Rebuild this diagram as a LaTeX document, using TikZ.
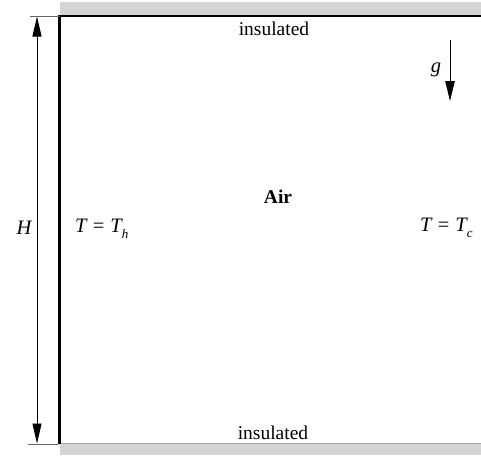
\documentclass[tikz,border=0pt]{standalone}
\usepackage{fontspec}
\setmainfont{Liberation Serif}
\usetikzlibrary{arrows.meta}
\tikzset{
  lbl/.style={inner sep=0pt, font=\fontsize{19.5}{22}\selectfont},
  mlbl/.style={inner sep=0pt, font=\fontsize{20.5}{24}\selectfont},
  wallbar/.style={fill=black!17, draw=none},
  dimline/.style={draw=black!60, line width=0.9pt},
  arrowline/.style={draw=black, line width=0.9pt, {Triangle[length=20pt,width=9pt]}-{Triangle[length=20pt,width=9pt]}},
  garrow/.style={draw=black, line width=0.9pt, -{Triangle[length=20pt,width=9.5pt]}}
}
\newcommand{\subtxt}[1]{\raisebox{-0.6ex}{\fontsize{13}{13}\selectfont\itshape #1}}
\newcommand{\eqsp}{\hspace{0.3em}=\hspace{0.3em}}
\begin{document}
\begin{tikzpicture}[x=1pt,y=-1pt]
\useasboundingbox (0,0) rectangle (481,455);
% insulated walls
\fill[wallbar] (60,2) rectangle (481,15);
\fill[wallbar] (60,443.5) rectangle (481,455);
\coordinate (tl) at (60,16);
\coordinate (tr) at (481,16);
\coordinate (bl) at (60,443);
\coordinate (br) at (481,443);
\draw[black, line width=1.4pt] (tl) -- (tr);
\draw[black!35, line width=0.9pt] (bl) -- (br);
\draw[black, line width=2.6pt] (59.6,15.3) -- (59.6,443.5);
% dimension H
\coordinate (ext1a) at (30,16);
\coordinate (ext2a) at (28,444);
\coordinate (ext2b) at (58,444);
\coordinate (dimtop) at (37,16.5);
\coordinate (dimbot) at (37,443.5);
\draw[dimline] (ext1a) -- (tl);
\draw[dimline] (ext2a) -- (ext2b);
\draw[arrowline] (dimtop) -- (dimbot);
% gravity
\coordinate (gtop) at (450,40);
\coordinate (gbot) at (450,101);
\draw[garrow] (gtop) -- (gbot);
% labels
\node[lbl] (instop) at (274,29) {insulated};
\node[lbl] (insbot) at (273,433) {insulated};
\node[lbl] (air) at (278,196.5) {\bfseries Air};
\node[mlbl] (H) at (24,228) {\itshape H};
\node[mlbl, anchor=west] (Th) at (75,229) {\itshape T\upshape\eqsp\itshape T\subtxt{h}};
\node[mlbl, anchor=west] (Tc) at (420,228) {\itshape T\upshape\eqsp\itshape T\subtxt{c}};
\node[mlbl] (g) at (436,70) {\itshape g};
\end{tikzpicture}
\end{document}
